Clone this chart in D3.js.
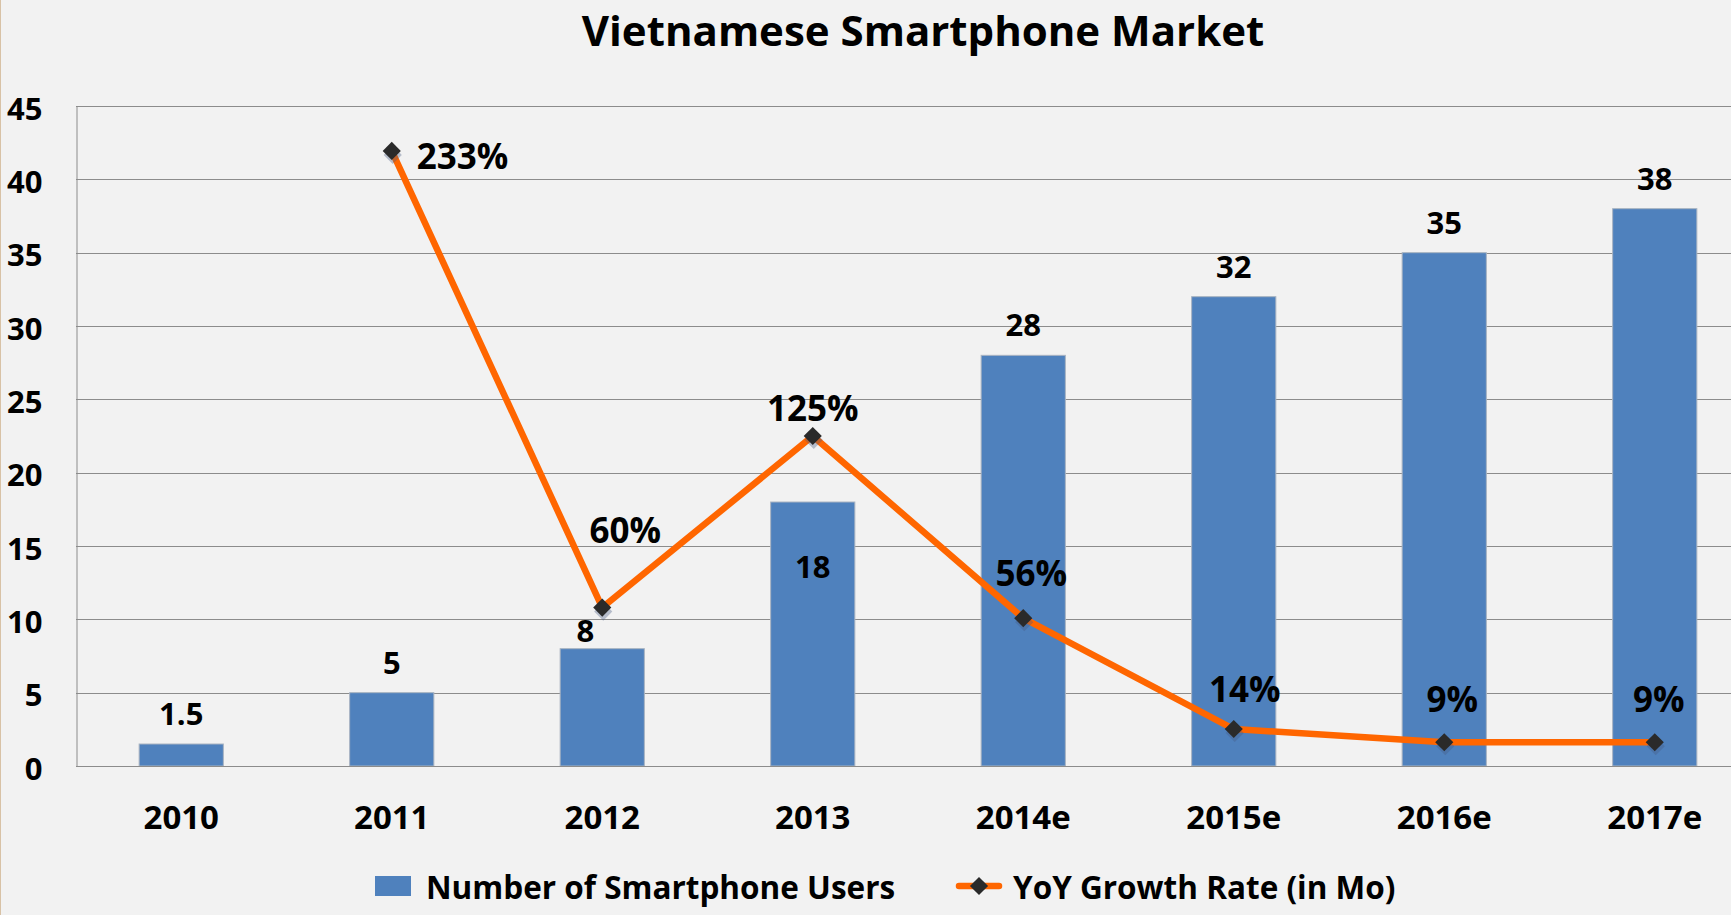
<!DOCTYPE html>
<html><head><meta charset="utf-8">
<script src="https://cdn.jsdelivr.net/npm/d3@7"></script>
<style>
body{margin:0;background:#f2f2f2;}
svg{display:block;}
text{font-family:"Open Sans",sans-serif;font-weight:700;fill:#000;}
</style>
</head><body><svg id="c" width="1731" height="915"></svg>
<script>
// ---- data ----
const title = "Vietnamese Smartphone Market";
const categories = ["2010","2011","2012","2013","2014e","2015e","2016e","2017e"];
const users = [1.5, 5, 8, 18, 28, 32, 35, 38];
const userLabels = ["1.5","5","8","18","28","32","35","38"];
const growth = [null, 233, 60, 125, 56, 14, 9, 9];
const growthLabels = [null, "233%","60%","125%","56%","14%","9%","9%"];
const yTicks = [0,5,10,15,20,25,30,35,40,45];
const seriesNames = ["Number of Smartphone Users", "YoY Growth Rate (in Mo)"];

// ---- layout ----
const W = 1731, H = 915;
const L = 76, R = 1760, T = 106, B = 766;
const svg = d3.select("#c");
svg.append("rect").attr("width",W).attr("height",H).attr("fill","#f2f2f2");
svg.append("line").attr("x1",0.5).attr("x2",0.5).attr("y1",0).attr("y2",H)
  .attr("stroke","#d8c2a6").attr("stroke-width",1);

const x = d3.scaleBand().domain(categories).range([L,R]).paddingInner(0.6).paddingOuter(0.3);
const y = d3.scaleLinear().domain([0,45]).range([B,T]);
const y2 = d3.scaleLinear().domain([0,250]).range([B,T]);

// gridlines
svg.append("g").selectAll("line").data(yTicks.filter(d=>d>0)).join("line")
  .attr("x1",L).attr("x2",W).attr("y1",d=>Math.round(y(d))+0.5).attr("y2",d=>Math.round(y(d))+0.5)
  .attr("stroke","#8c8c8c").attr("stroke-width",1);

// y axis
const ya = svg.append("g").attr("transform",`translate(${L+0.5},0)`)
  .call(d3.axisLeft(y).tickValues(yTicks).tickSize(0).tickPadding(34));
ya.select(".domain").attr("stroke","#8c8c8c");
ya.selectAll("text").attr("font-family","Open Sans").attr("font-weight",700)
  .attr("font-size",31).attr("fill","#000").attr("dy","0.42em");

// bars
svg.append("g").selectAll("rect").data(users).join("rect")
  .attr("x",(d,i)=>x(categories[i])).attr("width",x.bandwidth())
  .attr("y",d=>y(d)).attr("height",d=>B-y(d))
  .attr("fill","#4f81bd").attr("stroke","#a9b4c2").attr("stroke-width",1);

// x axis
const xa = svg.append("g").attr("transform",`translate(0,${B+0.5})`)
  .call(d3.axisBottom(x).tickSize(0).tickPadding(39));
xa.select(".domain").attr("d",`M${L},0H${W}`).attr("stroke","#8c8c8c");
xa.selectAll("text").attr("font-family","Open Sans").attr("font-weight",700)
  .attr("font-size",33).attr("fill","#000");

// bar labels (center offset from bar top)
const barLabelPos = {2:{dx:-17,dy:-18}, 3:{dx:0,dy:65}};
svg.append("g").selectAll("text").data(users).join("text")
  .attr("x",(d,i)=>x(categories[i])+x.bandwidth()/2+(barLabelPos[i]?barLabelPos[i].dx:0))
  .attr("y",(d,i)=>y(d)+(barLabelPos[i]?barLabelPos[i].dy:-30))
  .attr("dy","0.36em").attr("text-anchor","middle").attr("font-size",31)
  .text((d,i)=>userLabels[i]);

// growth line
const pts = growth.map((g,i)=>({g,i})).filter(p=>p.g!=null);
const cx = p=>x(categories[p.i])+x.bandwidth()/2;
const line = d3.line().x(cx).y(p=>y2(p.g));
svg.append("path").datum(pts).attr("d",line).attr("fill","none")
  .attr("stroke","#ff6600").attr("stroke-width",6.5).attr("stroke-linejoin","round");

const diamond = d3.symbol().type(d3.symbolSquare).size(165);
svg.append("g").selectAll("path").data(pts).join("path")
  .attr("d",diamond).attr("transform",p=>`translate(${cx(p)+1},${y2(p.g)+4}) rotate(45)`)
  .attr("fill","rgba(70,90,130,0.35)");
svg.append("g").selectAll("path").data(pts).join("path")
  .attr("d",diamond).attr("transform",p=>`translate(${cx(p)},${y2(p.g)}) rotate(45)`)
  .attr("fill","#2a2a2a");

// growth labels (center offsets from marker)
const gPos = {1:{dx:25,dy:6,a:"start"},2:{dx:23,dy:-77},3:{dx:0,dy:-28},4:{dx:8,dy:-45},
  5:{dx:11,dy:-40},6:{dx:8,dy:-43},7:{dx:4,dy:-43}};
svg.append("g").selectAll("text").data(pts).join("text")
  .attr("x",p=>cx(p)+gPos[p.i].dx).attr("y",p=>y2(p.g)+gPos[p.i].dy)
  .attr("dy","0.36em").attr("text-anchor",p=>gPos[p.i].a||"middle").attr("font-size",35)
  .text(p=>growthLabels[p.i]);

// title
svg.append("text").attr("x",923).attr("y",46).attr("text-anchor","middle")
  .attr("font-size",42).text(title);

// legend
const lg = svg.append("g");
lg.append("rect").attr("x",375).attr("y",876).attr("width",36).attr("height",20).attr("fill","#4f81bd");
lg.append("text").attr("x",426).attr("y",899).attr("font-size",31.5).text(seriesNames[0]);
lg.append("line").attr("x1",959).attr("x2",999).attr("y1",886).attr("y2",886)
  .attr("stroke","#ff6600").attr("stroke-width",6.5).attr("stroke-linecap","round");
lg.append("path").attr("d",diamond).attr("transform","translate(979,886) rotate(45)").attr("fill","#2a2a2a");
lg.append("text").attr("x",1013).attr("y",899).attr("font-size",31.5).text(seriesNames[1]);
</script>
</body></html>
